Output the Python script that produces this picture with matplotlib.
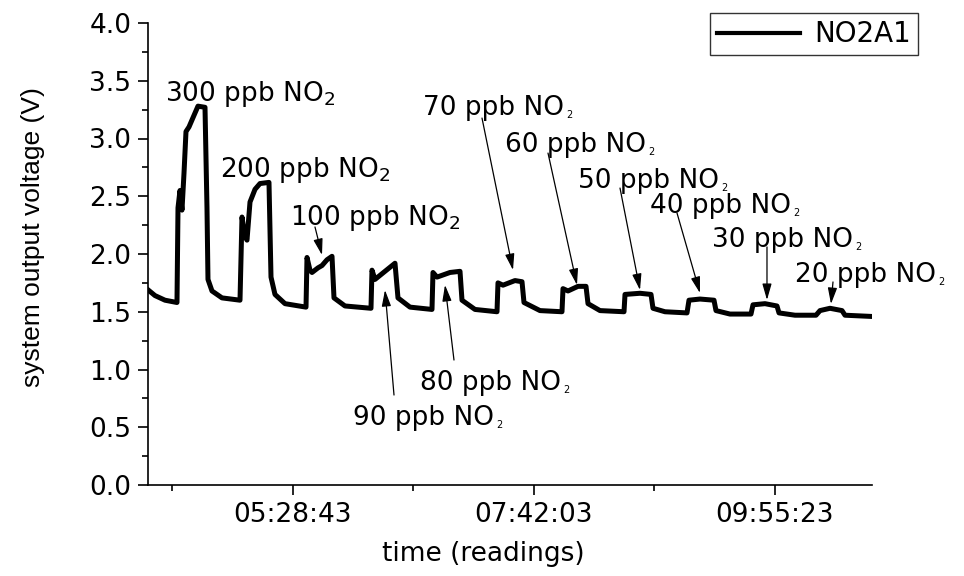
import matplotlib
matplotlib.use('Agg')
import matplotlib.pyplot as plt
from matplotlib.ticker import MultipleLocator, FixedLocator

# sensor trace, time in seconds since midnight and output voltage
time_s = [14910, 15142, 15474, 15872, 15906, 15972, 16038, 16105, 16171, 16271,
          16403, 16569, 16802, 16868, 16901, 17034, 17366, 17964, 18030, 18130,
          18196, 18296, 18462, 18628, 18926, 18993, 19125, 19457, 20155, 20188,
          20287, 20354, 20553, 20686, 20852, 21018, 21084, 21449, 22312, 22345,
          22445, 22777, 23109, 23208, 23607, 24337, 24370, 24503, 24935, 25267,
          25333, 25764, 26495, 26528, 26694, 27092, 27325, 27391, 27922, 28652,
          28686, 28852, 29184, 29449, 29516, 29914, 30711, 30744, 31242, 31607,
          31673, 32072, 32802, 32868, 33233, 33698, 33764, 34229, 34926, 34993,
          35391, 35789, 35856, 36387, 37084, 37217, 37549, 37947, 38047, 38877]
volts = [1.69, 1.64, 1.60, 1.58, 2.40, 2.55, 2.38, 2.70, 3.06, 3.10,
         3.18, 3.28, 3.27, 2.40, 1.78, 1.68, 1.62, 1.60, 2.32, 2.15,
         2.12, 2.45, 2.56, 2.61, 2.62, 1.80, 1.65, 1.57, 1.54, 1.97,
         1.86, 1.84, 1.88, 1.90, 1.95, 1.98, 1.62, 1.55, 1.53, 1.86,
         1.78, 1.85, 1.92, 1.62, 1.54, 1.52, 1.84, 1.80, 1.84, 1.85,
         1.60, 1.52, 1.50, 1.75, 1.73, 1.77, 1.76, 1.58, 1.51, 1.50,
         1.70, 1.68, 1.72, 1.72, 1.57, 1.51, 1.50, 1.65, 1.66, 1.65,
         1.53, 1.50, 1.49, 1.60, 1.61, 1.60, 1.51, 1.48, 1.48, 1.56,
         1.57, 1.55, 1.49, 1.47, 1.47, 1.51, 1.53, 1.51, 1.47, 1.46]

tick_pos = [19723, 27723, 35723]
tick_labels = ['05:28:43', '07:42:03', '09:55:23']
minor_pos = [15723, 23723, 31723]

# labels: text, text (t, v), arrow tail, arrow tip, small subscript?
labels = [
    ('300 ppb NO$_2$', (15474, 3.325), None, None, False),
    ('200 ppb NO$_2$', (17300, 2.667), None, None, False),
    ('100 ppb NO$_2$', (19623, 2.251), (20453, 2.234), (20686, 1.991), False),
    ('70 ppb NO', (24038, 3.203), (25997, 3.177), (27026, 1.861), True),
    ('60 ppb NO', (26760, 2.883), (28188, 2.874), (29150, 1.732), True),
    ('50 ppb NO', (29184, 2.571), (30578, 2.571), (31242, 1.688), True),
    ('40 ppb NO', (31574, 2.355), (32470, 2.355), (33233, 1.662), True),
    ('30 ppb NO', (33632, 2.061), (35457, 2.061), (35457, 1.602), True),
    ('20 ppb NO', (36387, 1.758), (37648, 1.758), (37582, 1.567), True),
    ('90 ppb NO', (21715, 0.519), (23076, 0.779), (22777, 1.688), True),
    ('80 ppb NO', (23939, 0.823), (25067, 1.082), (24769, 1.732), True),
]

plt.rcParams['font.family'] = ['DejaVu Sans']
plt.rcParams['mathtext.fontset'] = 'dejavusans'
fs = 19

fig = plt.figure(figsize=(9.64, 5.76), dpi=100)
ax = fig.add_axes([148 / 964, 91 / 576, 724 / 964, 462 / 576])

ax.plot(time_s, volts, color='black', lw=3.6, label='NO2A1',
        solid_joinstyle='round')

ax.set_xlim(14910, 38943)
ax.set_ylim(0, 4.0)
ax.spines['top'].set_visible(False)
ax.spines['right'].set_visible(False)
ax.spines['left'].set_linewidth(1.2)
ax.spines['bottom'].set_linewidth(1.2)

ax.xaxis.set_major_locator(FixedLocator(tick_pos))
ax.set_xticklabels(tick_labels)
ax.xaxis.set_minor_locator(FixedLocator(minor_pos))
ax.yaxis.set_major_locator(MultipleLocator(0.5))
ax.yaxis.set_minor_locator(MultipleLocator(0.25))
ax.yaxis.set_major_formatter(plt.FormatStrFormatter('%.1f'))
ax.tick_params(which='major', direction='out', length=7, width=1.2,
               labelsize=fs, pad=5)
ax.tick_params(which='minor', direction='out', length=4, width=1.2)

ax.set_xlabel('time (readings)', fontsize=fs)
ax.set_ylabel('system output voltage (V)', fontsize=fs,
              family='Liberation Sans')
ax.xaxis.set_label_coords((483 - 148) / 724, -0.121)
ax.yaxis.set_label_coords(-0.142, 0.537)

for txt, pos, tail, tip, small in labels:
    t = ax.text(pos[0], pos[1], txt, fontsize=fs, ha='left', va='baseline')
    if small:
        ax.annotate('2', xy=(1, 0), xycoords=t, xytext=(1.5, 0.5),
                    textcoords='offset points', fontsize=7,
                    ha='left', va='bottom')
    if tip is not None:
        ax.annotate('', xy=tip, xytext=tail,
                    arrowprops=dict(arrowstyle='-|>,head_length=0.7,head_width=0.2',
                                    color='black', lw=0.9, shrinkA=0, shrinkB=0,
                                    mutation_scale=14))

leg = ax.legend(loc='upper right', bbox_to_anchor=(1.0635, 1.0216),
                borderaxespad=0, fontsize=20, fancybox=False,
                edgecolor='black', handlelength=3.0, borderpad=0.25,
                handletextpad=0.5, handleheight=0.6)
leg.get_frame().set_linewidth(1.0)
leg.get_lines()[0].set_linewidth(3.0)

fig.savefig('out.png', dpi=100)
